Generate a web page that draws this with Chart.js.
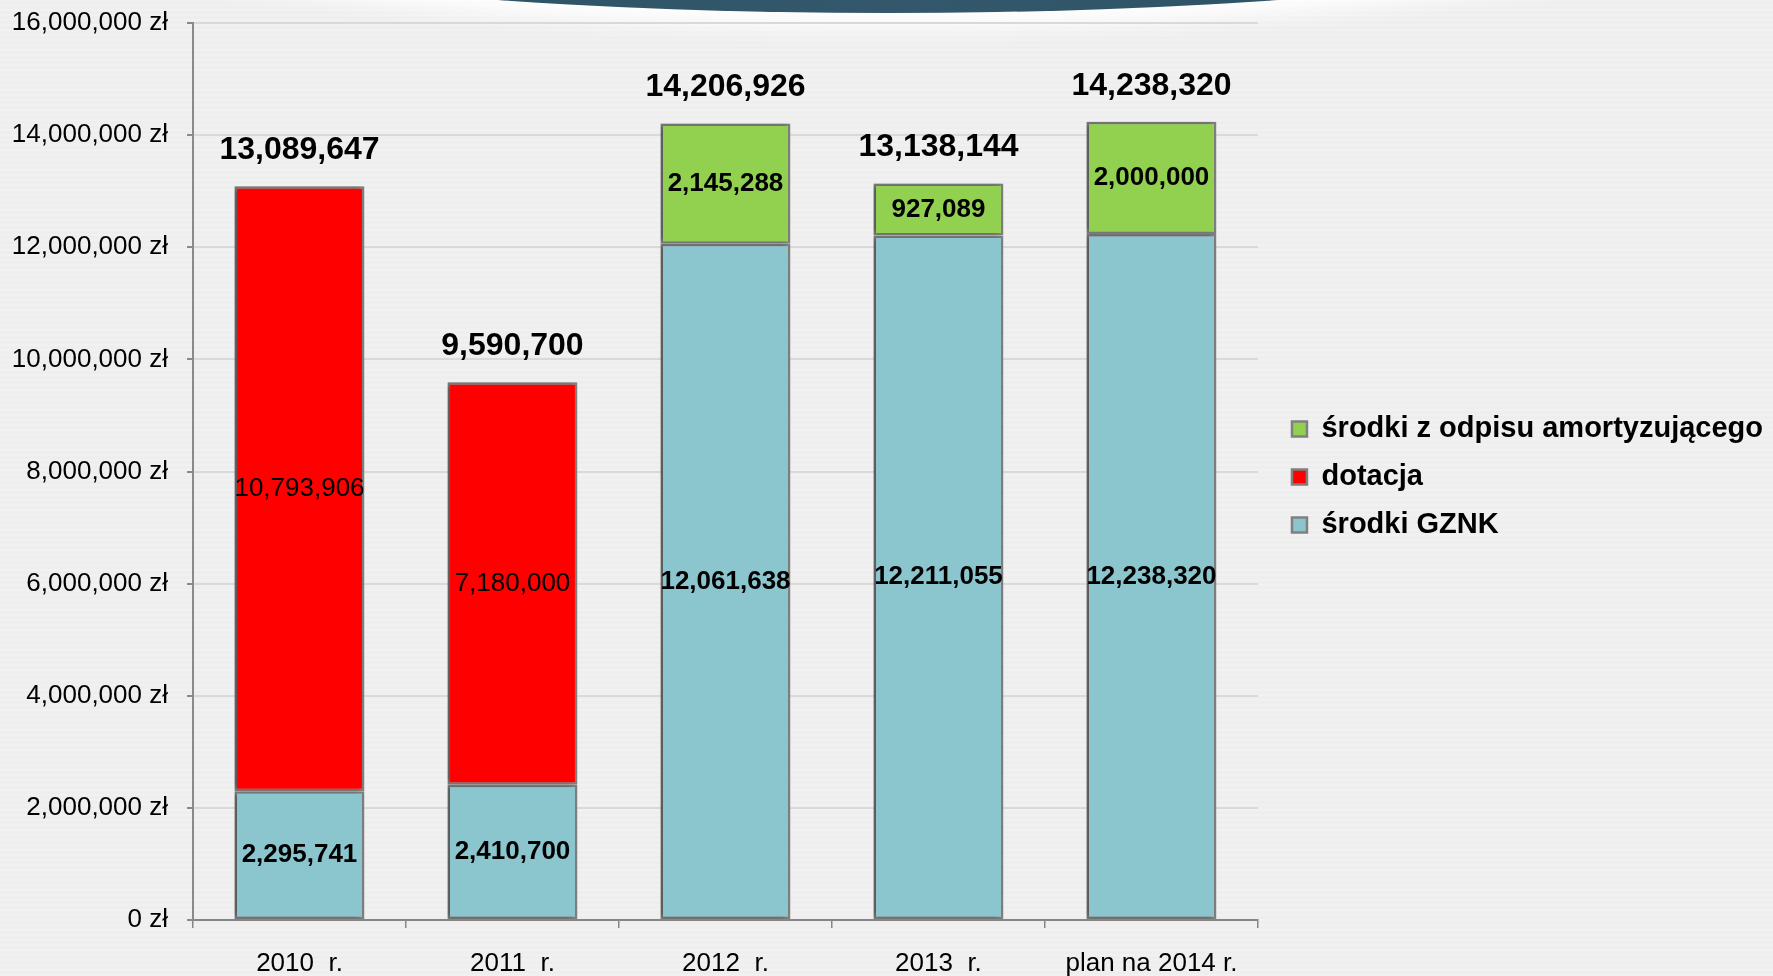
<!DOCTYPE html>
<html>
<head>
<meta charset="utf-8">
<script src="https://cdn.jsdelivr.net/npm/chart.js@4"></script>
<style>
  html, body { margin: 0; padding: 0; }
  body {
    width: 1773px; height: 976px; overflow: hidden; position: relative;
    background: #eeeeee repeating-linear-gradient(0deg, rgba(255,255,255,0.18) 0px, rgba(255,255,255,0.18) 2px, rgba(0,0,0,0) 2px, rgba(0,0,0,0) 5px);
  }
  #cap {
    position: absolute; left: -212px; top: -387px; width: 2200px; height: 400px;
    border-radius: 50%;
    background: radial-gradient(ellipse at 50% 90%, #34596c 0%, #2a4d60 60%, #233f50 100%);
    box-shadow: 0 0 22px 14px rgba(255,255,255,0.95);
  }
  #wrap { position: absolute; left: 0; top: 0; width: 1773px; height: 976px; }
</style>
</head>
<body>
<div id="cap"></div>
<div id="wrap"><canvas id="bar_chart"></canvas></div>
<script>
      // values
      const years = ['2010  r.', '2011  r.', '2012  r.', '2013  r.', 'plan na 2014 r.'];
      const gznk = [2295741, 2410700, 12061638, 12211055, 12238320];
      const dotacja = [10793906, 7180000, 0, 0, 0];
      const amort = [0, 0, 2145288, 927089, 2000000];

      Chart.defaults.font.family = "'Liberation Sans', Arial, sans-serif";
      Chart.defaults.color = '#000';

      const fmt = v => Math.round(v).toLocaleString('en-US');

      // labels inside segments and totals on top
      const valueLabels = {
        id: 'valueLabels',
        afterDatasetsDraw(chart) {
          const ctx = chart.ctx;
          ctx.save();
          ctx.textAlign = 'center';
          ctx.textBaseline = 'middle';
          ctx.fillStyle = '#000';
          chart.data.datasets.forEach((ds, di) => {
            const meta = chart.getDatasetMeta(di);
            meta.data.forEach((el, i) => {
              const v = ds.data[i];
              if (!v) return;
              const p = el.getProps(['x', 'y', 'base'], true);
              ctx.font = (di == 1 ? '' : 'bold ') + '26px "Liberation Sans", Arial, sans-serif';
              ctx.fillText(fmt(v), p.x, (p.y + p.base) / 2);
            });
          });
          // totals
          ctx.font = 'bold 32px "Liberation Sans", Arial, sans-serif';
          years.forEach((y, i) => {
            const total = gznk[i] + dotacja[i] + amort[i];
            const yTop = chart.scales.y.getPixelForValue(total);
            const x = chart.getDatasetMeta(0).data[i].x;
            ctx.fillText(fmt(total), x, yTop - 36);
          });
          ctx.restore();
        }
      };

      // soft shadow on the left of the bars
      const barShadow = {
        id: 'barShadow',
        beforeDatasetsDraw(chart) {
          const ctx = chart.ctx;
          ctx.save();
          ctx.shadowColor = 'rgba(0,0,0,0.35)';
          ctx.shadowBlur = 5;
          ctx.shadowOffsetX = -3;
          ctx.shadowOffsetY = 0;
        },
        afterDatasetsDraw(chart) {
          chart.ctx.restore();
        }
      };

      const chartData = {
        labels: years,
        datasets: [{
          label: 'środki GZNK',
          data: gznk,
          backgroundColor: '#8bc5cd'
        }, {
          label: 'dotacja',
          data: dotacja,
          backgroundColor: '#ff0000'
        }, {
          label: 'środki z odpisu amortyzującego',
          data: amort,
          backgroundColor: '#92d050'
        }]
      };
      chartData.datasets.forEach(ds => {
        ds.borderColor = '#808080';
        ds.borderWidth = 2.5;
        ds.borderSkipped = false;
        ds.barPercentage = 0.61;
        ds.categoryPercentage = 1.0;
      });

      const ctx1 = document.getElementById('bar_chart').getContext('2d');
      const chart1 = new Chart(ctx1, {
        type: 'bar',
        data: chartData,
        plugins: [barShadow, valueLabels],
        options: {
          responsive: true,
          maintainAspectRatio: false,
          animation: false,
          layout: { padding: { top: 23, right: 0, bottom: 0, left: 0 } },
          plugins: {
            tooltip: { enabled: false },
            legend: {
              position: 'right',
              fullSize: false,
              reverse: true,
              maxWidth: 620,
              // empty title only nudges the items down a little
              title: { display: true, text: '', font: { size: 11, lineHeight: 1 }, padding: 0 },
              labels: {
                boxWidth: 15,
                boxHeight: 15,
                padding: 19,
                font: { size: 29, weight: 'bold' },
                color: '#000'
              }
            }
          },
          scales: {
            x: {
              stacked: true,
              afterFit: s => { s.height = 56; },
              border: { color: '#868686', width: 2 },
              grid: { drawOnChartArea: false, tickLength: 8, color: '#868686', lineWidth: 1.5 },
              ticks: { font: { size: 26 }, padding: 20, color: '#000', maxRotation: 0 }
            },
            y: {
              stacked: true,
              min: 0,
              max: 16000000,
              afterFit: s => { s.width = 193; s.paddingTop = 0; s.paddingBottom = 0; },
              border: { color: '#8a8a8a', width: 2 },
              grid: { color: '#d9d9d9', lineWidth: 2, tickLength: 6, tickColor: '#8a8a8a' },
              ticks: {
                stepSize: 2000000,
                padding: 19,
                font: { size: 26 },
                color: '#000',
                callback: v => v.toLocaleString('en-US') + ' zł'
              }
            },
            // empty spacer between the plot and the legend
            gap: {
              position: 'right',
              display: true,
              afterFit: s => { s.width = 15; s.paddingTop = 0; s.paddingBottom = 0; },
              border: { display: false },
              grid: { display: false },
              ticks: { display: false }
            }
          }
        }
      });
</script>
</body>
</html>
